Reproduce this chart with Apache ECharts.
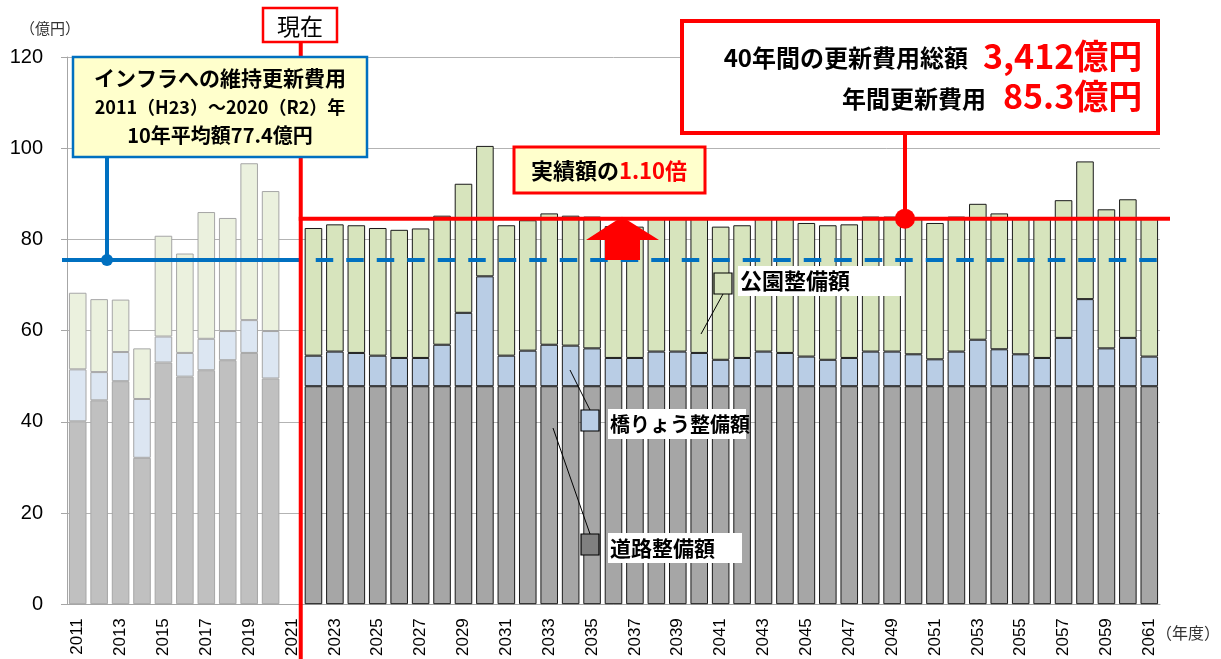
<!DOCTYPE html>
<html>
<head>
<meta charset="utf-8">
<script src="https://cdn.jsdelivr.net/npm/echarts@6/dist/echarts.min.js"></script>
<style>
  html, body { margin: 0; padding: 0; background: #fff; }
  #chart { width: 1221px; height: 659px; }
</style>
</head>
<body>
<div id="chart"></div>
<script>
// 年度（カテゴリ）
const years = [
  '2011', '2012', '2013', '2014', '2015', '2016', '2017', '2018', '2019', '2020',
  '2021', '2022', '2023', '2024', '2025', '2026', '2027', '2028', '2029', '2030',
  '2031', '2032', '2033', '2034', '2035', '2036', '2037', '2038', '2039', '2040',
  '2041', '2042', '2043', '2044', '2045', '2046', '2047', '2048', '2049', '2050',
  '2051', '2052', '2053', '2054', '2055', '2056', '2057', '2058', '2059', '2060',
  '2061'
];

// 道路整備額（億円）
const roadData = [
  40.1, 44.7, 48.9, 32.1, 53.0, 49.9, 51.3, 53.5, 55.1, 49.5,
  null, 47.8, 47.8, 47.8, 47.8, 47.8, 47.8, 47.8, 47.8, 47.8,
  47.8, 47.8, 47.8, 47.8, 47.8, 47.8, 47.8, 47.8, 47.8, 47.8,
  47.8, 47.8, 47.8, 47.8, 47.8, 47.8, 47.8, 47.8, 47.8, 47.8,
  47.8, 47.8, 47.8, 47.8, 47.8, 47.8, 47.8, 47.8, 47.8, 47.8,
  47.8
];

// 橋りょう整備額（億円）
const bridgeData = [
  11.4, 6.2, 6.4, 12.9, 5.7, 5.2, 6.9, 6.4, 7.2, 10.4,
  null, 6.7, 7.6, 7.3, 6.7, 6.2, 6.2, 9.1, 16.1, 24.1,
  6.7, 7.8, 9.1, 8.9, 8.3, 6.2, 6.2, 7.6, 7.6, 7.3,
  5.8, 6.2, 7.6, 7.3, 6.5, 5.8, 6.2, 7.6, 7.6, 7.0,
  5.9, 7.6, 10.2, 8.1, 7.0, 6.2, 10.6, 19.1, 8.3, 10.6,
  6.5
];

// 公園整備額（億円）
const parkData = [
  16.8, 16.0, 11.5, 11.1, 22.1, 21.8, 27.8, 24.8, 34.4, 30.7,
  null, 28.0, 27.9, 28.0, 28.0, 28.1, 28.4, 28.3, 28.3, 28.6,
  28.6, 28.6, 28.8, 28.5, 28.9, 28.9, 28.8, 29.1, 29.1, 29.4,
  29.2, 29.1, 29.1, 29.4, 29.3, 29.5, 29.3, 29.6, 29.6, 29.7,
  29.9, 29.6, 29.8, 29.8, 29.7, 30.5, 30.2, 30.2, 30.5, 30.4,
  30.2
];

// 基準線（図中の位置）
const pastAvgLine = 75.5;
const futureAvgLine = 84.55;
const yTicks = [0, 20, 40, 60, 80, 100, 120];

// 実績年数（2011〜2020）
const pastCount = 10;

const JP = '"Noto Sans CJK JP", "Noto Sans", sans-serif';
const NUM = '"Liberation Sans", "Noto Sans", sans-serif';

// 色
const pastColors = { road: '#c0c0c0', bridge: '#dce6f2', park: '#ebf1de', border: '#a6a6a6' };
const futureColors = { road: '#a6a6a6', bridge: '#b9cde5', park: '#d7e4bd', border: '#1a1a1a' };

// データに実績／推計のスタイルを付ける
const styled = (arr, key) => arr.map((v, i) => {
  const c = i < pastCount ? pastColors : futureColors;
  return { value: v, itemStyle: { color: c[key], borderColor: c.border, borderWidth: 1 } };
});

const chart = echarts.init(document.getElementById('chart'));

const option = {
  animation: false,
  grid: { left: 67, right: 61, top: 57, bottom: 52 },
  xAxis: {
    type: 'category',
    data: years,
    axisLine: { lineStyle: { color: '#a6a6a6' } },
    axisTick: { interval: 0, length: 6, lineStyle: { color: '#a6a6a6' } },
    axisLabel: {
      interval: 1,
      rotate: 90,
      margin: 14,
      fontSize: 17,
      fontFamily: NUM,
      color: '#000'
    }
  },
  yAxis: {
    type: 'value',
    min: yTicks[0],
    max: yTicks[yTicks.length - 1],
    interval: 20,
    axisLine: { show: true, lineStyle: { color: '#a6a6a6' } },
    axisTick: { show: true, length: 6, lineStyle: { color: '#a6a6a6' } },
    splitLine: { lineStyle: { color: '#b3b3b3' } },
    axisLabel: { fontSize: 20, fontFamily: NUM, color: '#000', margin: 24 }
  },
  series: [
    { name: '道路整備額', type: 'bar', stack: 'total', barCategoryGap: '18%', data: styled(roadData, 'road') },
    { name: '橋りょう整備額', type: 'bar', stack: 'total', data: styled(bridgeData, 'bridge') },
    { name: '公園整備額', type: 'bar', stack: 'total', data: styled(parkData, 'park') }
  ]
};

chart.setOption(option);

// 注記（線・枠・ラベル）
const yPast = chart.convertToPixel({ yAxisIndex: 0 }, pastAvgLine);
const yFuture = chart.convertToPixel({ yAxisIndex: 0 }, futureAvgLine);
const xNow = (chart.convertToPixel({ xAxisIndex: 0 }, '2021') + chart.convertToPixel({ xAxisIndex: 0 }, '2022')) / 2 - 2;
const xEnd = chart.convertToPixel({ xAxisIndex: 0 }, '2061') + 12;

const BLUE = '#0070c0';
const RED = '#ff0000';

const line = (x1, y1, x2, y2, color, width, dash) => ({
  type: 'line',
  shape: { x1, y1, x2, y2 },
  style: { stroke: color, lineWidth: width, lineDash: dash || null },
  z: 10
});

const text = (x, y, str, size, color, align, weight, family) => ({
  type: 'text',
  x, y,
  style: {
    text: str,
    fontSize: size,
    fontWeight: weight || 'bold',
    fontFamily: family || JP,
    fill: color,
    align: align || 'center',
    verticalAlign: 'middle'
  },
  z: 20
});

const rect = (x, y, w, h, fill, stroke, lw) => ({
  type: 'rect',
  shape: { x, y, width: w, height: h },
  style: { fill, stroke, lineWidth: lw },
  z: 15
});

const labelBox = (sx, sy, color, tx, ty, tw, str, size, leader) => [
  line(leader[0], leader[1], leader[2], leader[3], '#000', 1),
  rect(tx - 2, ty - 15, tw, 30, '#fff', null, 0),
  rect(sx, sy, 18, 21, color, '#000', 1.2),
  text(tx, ty, str, size, '#000', 'left')
];

const graphics = [
  // 軸単位
  text(50, 28, '（億円）', 15, '#333', 'center', 'normal'),
  text(1188, 633, '（年度）', 16, '#333', 'center', 'normal'),

  // 実績平均線
  line(62, yPast, xNow, yPast, BLUE, 4),
  line(xNow + 15, yPast, xEnd, yPast, BLUE, 4, [17.5, 13]),
  line(107, 157, 107, yPast, BLUE, 4),
  { type: 'circle', shape: { cx: 107, cy: yPast, r: 6 }, style: { fill: BLUE }, z: 12 },
  rect(73, 57, 294, 100, '#ffffcc', BLUE, 2.5),
  text(220, 78, 'インフラへの維持更新費用', 21, '#000'),
  text(220, 107, '2011（H23）～2020（R2）年', 18, '#000'),
  text(220, 135, '10年平均額77.4億円', 20, '#000'),

  // 現在
  line(xNow, 42, xNow, 659, RED, 4),
  rect(263, 8, 74, 34, '#fff', RED, 2.5),
  text(300, 26, '現在', 23, '#000', 'center', 'normal'),

  // 推計平均線
  line(xNow - 2, yFuture, 1170, yFuture, RED, 4),
  line(905, 133, 905, yFuture, RED, 4),
  { type: 'circle', shape: { cx: 905, cy: yFuture, r: 10 }, style: { fill: RED }, z: 12 },
  rect(682, 21, 476, 112, '#fff', RED, 4),
  text(968, 58, '40年間の更新費用総額', 24, '#000', 'right'),
  text(983, 56, '3,412億円', 34, RED, 'left'),
  text(986, 99, '年間更新費用', 24, '#000', 'right'),
  text(1003, 96, '85.3億円', 34, RED, 'left'),

  // 倍率
  rect(514, 147, 191, 46, '#ffffcc', RED, 3),
  {
    type: 'text',
    x: 609, y: 171,
    style: {
      text: '{a|実績額の}{b|1.10倍}',
      align: 'center',
      verticalAlign: 'middle',
      rich: {
        a: { fontSize: 22, fontWeight: 'bold', fontFamily: JP, fill: '#000', color: '#000' },
        b: { fontSize: 22, fontWeight: 'bold', fontFamily: JP, fill: RED, color: RED }
      }
    },
    z: 20
  },
  {
    type: 'polygon',
    shape: { points: [[622, yFuture - 2], [659, 240], [640, 240], [640, 260], [605, 260], [605, 240], [586, 240]] },
    style: { fill: RED },
    z: 14
  },

  // 系列ラベル
  ...labelBox(714, 273, futureColors.park, 740, 281, 165, '公園整備額', 22, [723, 294, 701, 334]),
  ...labelBox(581, 410, futureColors.bridge, 610, 424, 138, '橋りょう整備額', 20, [590, 410, 570, 370]),
  ...labelBox(581, 534, '#808080', 610, 548, 134, '道路整備額', 21, [590, 534, 553, 428])
];

chart.setOption({ graphic: graphics });
</script>
</body>
</html>
